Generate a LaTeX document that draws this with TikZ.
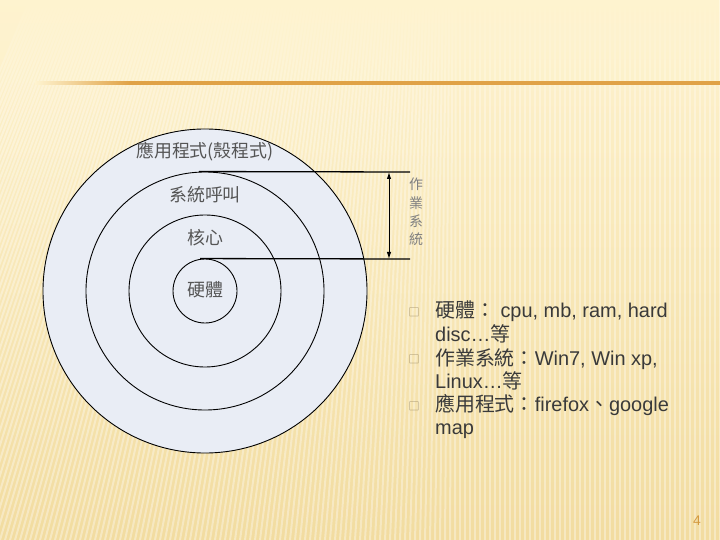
\documentclass[tikz,border=0pt]{standalone}
\usepackage{fontspec}
\setmainfont{Liberation Sans}
\newfontfamily\cjk{Noto Sans CJK TC}
\usetikzlibrary{arrows.meta, positioning, fadings}
\definecolor{bgtop}{HTML}{FEF3CF}
\definecolor{bgbot}{HTML}{F2DCA0}
\definecolor{rulecol}{HTML}{E0A246}
\definecolor{disk}{HTML}{E9EDF5}
\definecolor{ink}{HTML}{3A3A3A}
\definecolor{pale}{HTML}{555555}
\definecolor{boxcol}{HTML}{9C8A66}
\definecolor{pgnum}{HTML}{D49A40}
\tikzfading[name=topfade, top color=transparent!0, bottom color=transparent!100]
\tikzset{
  ring/.style={circle,draw=black,line width=.9pt,fill=disk,inner sep=0pt},
  layer/.style={font=\cjk\fontsize{18}{20}\selectfont,text=pale,inner sep=0pt},
  item/.style={font=\fontsize{20}{23.3}\selectfont,text=ink,align=left,anchor=north west,inner sep=0pt},
  bulletbox/.style={font=\cjk\fontsize{11}{12}\selectfont,text=boxcol,inner sep=0pt}
}
\begin{document}
\begin{tikzpicture}[x=1bp,y=-1bp]
    \useasboundingbox (0,0) rectangle (720,540);
    % background
    \shade[top color=bgtop, bottom color=bgbot] (0,0) rectangle (720,540);
    \begin{scope}
    \clip (0,0) rectangle (720,540);
    \foreach \x in {-200,-195,...,720}{
    \draw[white,opacity=.35,line width=2bp] (\x,540) -- ({\x+max(0,160-0.35*\x)},0);}
    \end{scope}
    \fill[bgtop,path fading=topfade] (0,0) rectangle (720,120);
    \shade[left color=bgtop, right color=rulecol] (35,82) rectangle (130,85);
    \shade[left color=rulecol, right color=rulecol] (130,82) rectangle (720,85);
    % rings
    \foreach \n/\d in {app/324,sys/238,ker/152,hw/64}{
    \node[ring,minimum size=\d bp] (\n) at (205,291) {};}
    \node[layer] (lapp) at (205,152) {應用程式(殼程式)};
    \node[layer] (lsys) at (205,195) {系統呼叫};
    \node[layer] (lker) at (205,238) {核心};
    \node[layer] (lhw) at (205,290) {硬體};
    % os span
    \coordinate (t1) at (410,172);
    \coordinate (t2) at (410,259);
    \coordinate (a1) at (389,172);
    \coordinate (a2) at (389,259);
    \draw[line width=1.3bp] ([xshift=-6bp]sys.north) -- (t1);
    \draw[line width=1.3bp] ([xshift=-5bp]hw.north) -- (t2);
    \draw[{Latex[length=7bp,width=4.5bp]}-{Latex[length=7bp,width=4.5bp]},line width=1bp] (a1) -- (a2);
    \node[font=\cjk\fontsize{14}{18.5}\selectfont,text=gray,align=center,inner sep=0pt] (os) at (416,212) {作\\業\\系\\統};
    % bullets
    \foreach \i/\y in {1/312,2/359,3/406}{
    \node[bulletbox] (b\i) at (414,\y) {□};}
    \node[item] (i1) at (435,301) {{\cjk 硬體：} cpu, mb, ram, hard\\disc…{\cjk 等}};
    \node[item] (i2) at (435,348) {{\cjk 作業系統：}Win7, Win xp,\\Linux…{\cjk 等}};
    \node[item] (i3) at (435,394) {{\cjk 應用程式：}firefox{\cjk 、}google\\map};
    \node[font=\fontsize{14}{16}\selectfont,text=pgnum,inner sep=0pt] (pg) at (697,521) {4};
\end{tikzpicture}
\end{document}
